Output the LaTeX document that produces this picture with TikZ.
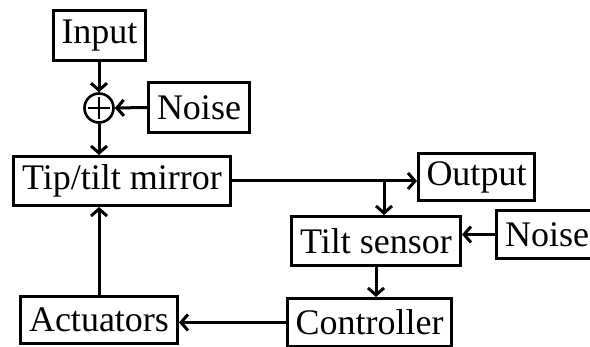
\documentclass[tikz,border=0pt]{standalone}
\usepackage{fontspec}
\setmainfont{Liberation Serif}
\usetikzlibrary{arrows.meta}
\begin{document}
\begin{tikzpicture}[x=1pt,y=-1pt,
  blk/.style={draw,line width=3pt,inner sep=0pt,font=\fontsize{36}{40}\selectfont},
  conn/.style={draw,line width=3pt,-{Straight Barb[length=7pt,width=16pt]}}]
\useasboundingbox (0,0) rectangle (590,347);
\node[blk,minimum width=92pt,minimum height=50pt] (input) at (99.5,35.5) {Input};
\node[blk,minimum width=101pt,minimum height=50pt] (noiseA) at (199,107.5) {Noise};
\node[draw,circle,line width=2.6pt,minimum size=29pt,inner sep=0pt] (sum) at (99,108) {};
\node[blk,minimum width=217pt,minimum height=49pt] (mirror) at (122,181) {Tip/tilt mirror};
\node[blk,minimum width=116pt,minimum height=47pt] (output) at (476.5,177) {Output};
\node[blk,minimum width=169pt,minimum height=49pt] (tilt) at (376,241) {Tilt sensor};
\node[blk,minimum width=101pt,minimum height=48pt] (noiseB) at (547,234.5) {Noise};
\node[blk,minimum width=157pt,minimum height=47pt] (act) at (99,320) {Actuators};
\node[blk,minimum width=164pt,minimum height=48pt] (ctrl) at (369.5,322.5) {Controller};
\draw[line width=1.8pt] (sum.center) +(-11,0) -- +(11,0);
\draw[line width=1.8pt] (sum.center) +(0,-11) -- +(0,11);
\path[conn] (input.south -| sum.north) -- (sum.north);
\path[conn] (noiseA.west) -- (sum.east);
\path[conn] (sum.south) -- (sum.south |- mirror.north);
\path[conn] (mirror.east) -- (mirror.east -| output.west);
\coordinate (br) at (384,181);
\path[conn] (br) -- (br |- tilt.north);
\path[conn] (noiseB.west) -- (noiseB.west -| tilt.east);
\path[conn] (tilt.south) -- (tilt.south |- ctrl.north);
\path[conn] (ctrl.west) -- (ctrl.west -| act.east);
\path[conn] (act.north) -- (act.north |- mirror.south);
\end{tikzpicture}
\end{document}
